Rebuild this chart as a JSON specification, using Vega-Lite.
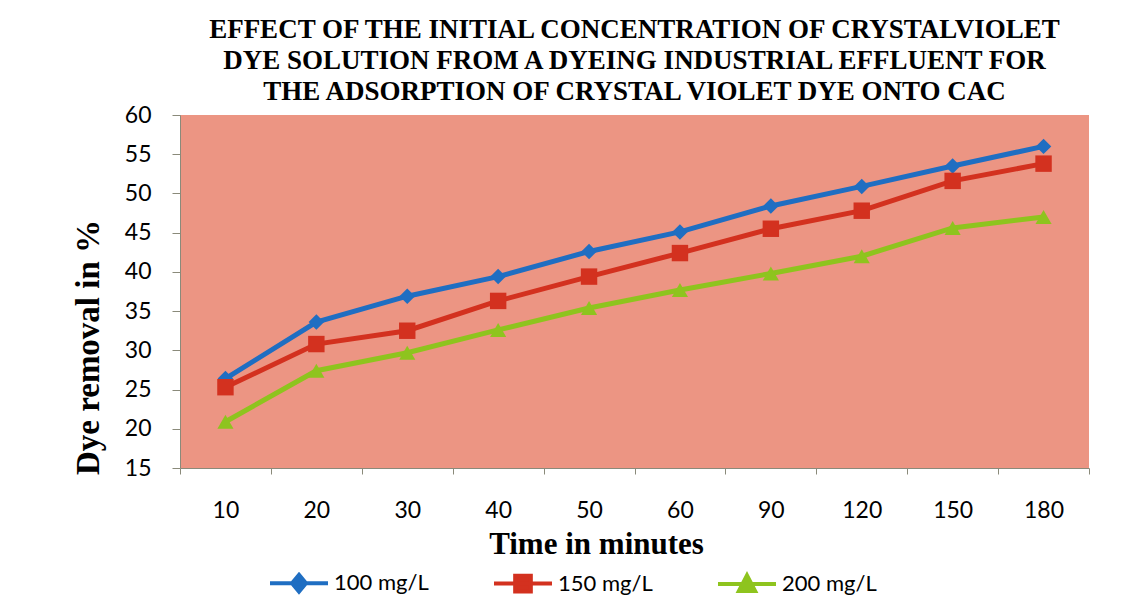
{
  "$schema": "https://vega.github.io/schema/vega-lite/v6.json",
  "width": 909,
  "height": 353,
  "autosize": {"type": "none"},
  "padding": {"left": 180, "top": 115, "right": 37, "bottom": 148},
  "background": "white",
  "title": {
    "text": ["EFFECT OF THE INITIAL CONCENTRATION OF CRYSTALVIOLET", "DYE SOLUTION FROM A DYEING INDUSTRIAL EFFLUENT FOR", "THE ADSORPTION OF CRYSTAL VIOLET DYE ONTO CAC"],
    "font": "Liberation Serif",
    "fontSize": 27,
    "fontWeight": "bold",
    "color": "black",
    "lineHeight": 31,
    "anchor": "middle",
    "frame": "group",
    "offset": -2
  },
  "data": {
    "values": [
      {"time": "10", "conc": "100 mg/L", "removal": 26.4},
      {"time": "20", "conc": "100 mg/L", "removal": 33.6},
      {"time": "30", "conc": "100 mg/L", "removal": 36.9},
      {"time": "40", "conc": "100 mg/L", "removal": 39.4},
      {"time": "50", "conc": "100 mg/L", "removal": 42.6},
      {"time": "60", "conc": "100 mg/L", "removal": 45.1},
      {"time": "90", "conc": "100 mg/L", "removal": 48.4},
      {"time": "120", "conc": "100 mg/L", "removal": 50.9},
      {"time": "150", "conc": "100 mg/L", "removal": 53.5},
      {"time": "180", "conc": "100 mg/L", "removal": 56.0},
      {"time": "10", "conc": "150 mg/L", "removal": 25.3},
      {"time": "20", "conc": "150 mg/L", "removal": 30.8},
      {"time": "30", "conc": "150 mg/L", "removal": 32.5},
      {"time": "40", "conc": "150 mg/L", "removal": 36.3},
      {"time": "50", "conc": "150 mg/L", "removal": 39.4},
      {"time": "60", "conc": "150 mg/L", "removal": 42.4},
      {"time": "90", "conc": "150 mg/L", "removal": 45.5},
      {"time": "120", "conc": "150 mg/L", "removal": 47.8},
      {"time": "150", "conc": "150 mg/L", "removal": 51.6},
      {"time": "180", "conc": "150 mg/L", "removal": 53.8},
      {"time": "10", "conc": "200 mg/L", "removal": 20.9},
      {"time": "20", "conc": "200 mg/L", "removal": 27.4},
      {"time": "30", "conc": "200 mg/L", "removal": 29.7},
      {"time": "40", "conc": "200 mg/L", "removal": 32.6},
      {"time": "50", "conc": "200 mg/L", "removal": 35.4},
      {"time": "60", "conc": "200 mg/L", "removal": 37.7},
      {"time": "90", "conc": "200 mg/L", "removal": 39.8},
      {"time": "120", "conc": "200 mg/L", "removal": 42.0},
      {"time": "150", "conc": "200 mg/L", "removal": 45.6},
      {"time": "180", "conc": "200 mg/L", "removal": 47.0}
    ]
  },
  "encoding": {
    "x": {
      "field": "time",
      "type": "ordinal",
      "scale": {"type": "band", "domain": ["10", "20", "30", "40", "50", "60", "90", "120", "150", "180"], "paddingInner": 0, "paddingOuter": 0},
      "axis": {
        "title": "Time in minutes",
        "titleFont": "Liberation Serif",
        "titleFontSize": 31,
        "titleFontWeight": "bold",
        "titleColor": "black",
        "titlePadding": 7,
        "titleX": 416,
        "titleAnchor": "middle",
        "labelAngle": 0,
        "labelFont": "Lato",
        "labelFontSize": 23,
        "labelColor": "black",
        "labelPadding": 25,
        "tickBand": "extent",
        "tickSize": 6,
        "tickColor": "#8a8a7a",
        "domainColor": "#8a8a7a",
        "grid": false
      }
    },
    "y": {
      "field": "removal",
      "type": "quantitative",
      "scale": {"domain": [15, 60], "nice": false, "zero": false},
      "axis": {
        "title": "Dye removal in %",
        "titleFont": "Liberation Serif",
        "titleFontSize": 33,
        "titleFontWeight": "bold",
        "titleColor": "black",
        "titlePadding": 19,
        "titleY": 232,
        "titleAnchor": "middle",
        "values": [15, 20, 25, 30, 35, 40, 45, 50, 55, 60],
        "labelFont": "Lato",
        "labelFontSize": 23,
        "labelColor": "black",
        "labelPadding": 21,
        "tickSize": 8,
        "tickColor": "#8a8a7a",
        "domainColor": "#8a8a7a",
        "grid": false
      }
    },
    "color": {
      "field": "conc",
      "type": "nominal",
      "scale": {"domain": ["100 mg/L", "150 mg/L", "200 mg/L"], "range": ["#1F6EC2", "#D3311F", "#8EC41E"]},
      "legend": {
        "title": null,
        "orient": "none",
        "direction": "horizontal",
        "legendX": 88,
        "legendY": 437,
        "symbolSize": 3364,
        "symbolStrokeWidth": 4,
        "symbolOpacity": 1,
        "labelFont": "Lato",
        "labelFontSize": 22,
        "labelColor": "black",
        "labelOffset": 4,
        "columnPadding": 57
      }
    }
  },
  "layer": [
    {
      "mark": {"type": "line", "strokeWidth": 5}
    },
    {
      "mark": {"type": "point", "filled": true, "opacity": 0, "size": 1},
      "encoding": {
        "stroke": {
          "field": "conc",
          "type": "nominal",
          "scale": {"domain": ["100 mg/L", "150 mg/L", "200 mg/L"], "range": ["#1F6EC2", "#D3311F", "#8EC41E"]},
          "legend": {
            "title": null,
            "orient": "none",
            "direction": "horizontal",
            "legendX": 88,
            "legendY": 437,
            "symbolSize": 3364,
            "symbolStrokeWidth": 4,
            "symbolOpacity": 1,
            "labelFont": "Lato",
            "labelFontSize": 22,
            "labelColor": "black",
            "labelOffset": 4,
            "columnPadding": 57
          }
        },
        "shape": {
          "field": "conc",
          "type": "nominal",
          "scale": {"domain": ["100 mg/L", "150 mg/L", "200 mg/L"], "range": ["M-1,0L1,0M0,-0.29L0.24,0L0,0.29L-0.24,0Z", "M-1,0L1,0M-0.27,-0.27L0.27,-0.27L0.27,0.27L-0.27,0.27Z", "M-1,0L1,0M0,-0.3L0.28,0.24L-0.28,0.24Z"]},
          "legend": {
            "title": null,
            "orient": "none",
            "direction": "horizontal",
            "legendX": 88,
            "legendY": 437,
            "symbolSize": 3364,
            "symbolStrokeWidth": 4,
            "symbolOpacity": 1,
            "labelFont": "Lato",
            "labelFontSize": 22,
            "labelColor": "black",
            "labelOffset": 4,
            "columnPadding": 57
          }
        }
      }
    },
    {
      "transform": [{"filter": "datum.conc === '100 mg/L'"}],
      "mark": {"type": "point", "shape": "diamond", "filled": true, "opacity": 1, "size": 240}
    },
    {
      "transform": [{"filter": "datum.conc === '150 mg/L'"}],
      "mark": {"type": "point", "shape": "square", "filled": true, "opacity": 1, "size": 270}
    },
    {
      "transform": [{"filter": "datum.conc === '200 mg/L'"}],
      "mark": {"type": "point", "shape": "triangle-up", "filled": true, "opacity": 1, "size": 260}
    }
  ],
  "config": {
    "view": {"fill": "#EC9583", "stroke": null}
  }
}
